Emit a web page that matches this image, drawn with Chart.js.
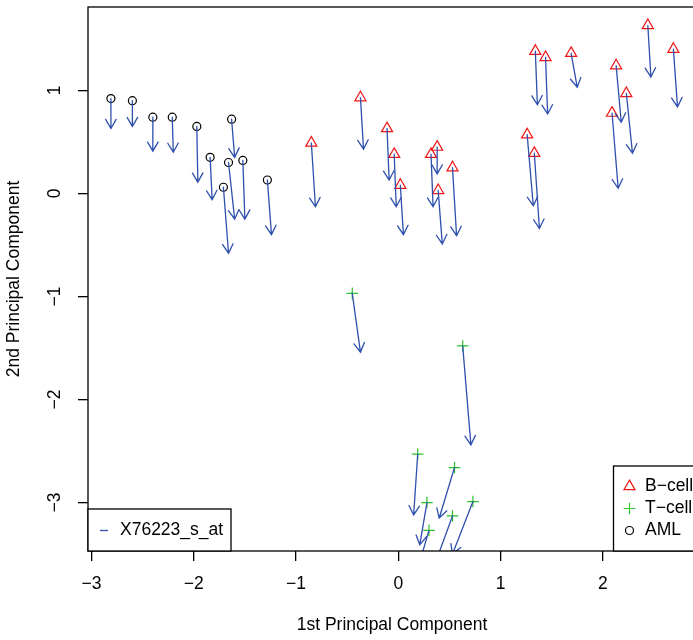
<!DOCTYPE html>
<html>
<head>
<meta charset="utf-8">
<script src="https://cdn.jsdelivr.net/npm/chart.js@4.4.1/dist/chart.umd.min.js"></script>
<style>
  html, body { margin: 0; padding: 0; overflow: hidden; background: #fff; }
  #wrap { width: 693px; height: 640px; overflow: hidden; }
</style>
</head>
<body>
<div id="wrap"><canvas id="pca" width="700" height="640" style="width:700px;height:640px"></canvas></div>
<script>
// values
const xTicks = [-3, -2, -1, 0, 1, 2];
const yTicks = [-3, -2, -1, 0, 1];

const groupNames = ['B\u2212cell', 'T\u2212cell', 'AML'];
const geneName = 'X76223_s_at';

const bX = [-0.85, -0.37, -0.11, -0.04, 0.02, 0.32, 0.38, 0.39, 0.53, 1.26, 1.33, 1.34, 1.44, 1.69, 2.13, 2.23, 2.09, 2.44, 2.69];
const bY = [0.49, 0.93, 0.63, 0.38, 0.08, 0.38, 0.45, 0.03, 0.25, 0.57, 0.39, 1.38, 1.32, 1.36, 1.24, 0.97, 0.78, 1.63, 1.40];
const bEndX = [-0.81, -0.34, -0.09, -0.02, 0.05, 0.34, 0.38, 0.43, 0.57, 1.32, 1.38, 1.36, 1.46, 1.75, 2.18, 2.29, 2.15, 2.47, 2.73];
const bEndY = [-0.13, 0.43, 0.13, -0.13, -0.40, -0.13, 0.19, -0.49, -0.41, -0.12, -0.34, 0.86, 0.77, 1.03, 0.69, 0.39, 0.05, 1.13, 0.84];

const tX = [-0.45, 0.63, 0.19, 0.55, 0.28, 0.73, 0.53, 0.30];
const tY = [-0.97, -1.48, -2.53, -2.66, -3.00, -2.99, -3.13, -3.27];
const tEndX = [-0.37, 0.71, 0.15, 0.40, 0.21, 0.53, 0.35, 0.17];
const tEndY = [-1.54, -2.44, -3.12, -3.15, -3.41, -3.50, -3.62, -3.71];

const amlX = [-2.81, -2.60, -2.40, -2.21, -1.97, -1.63, -1.84, -1.66, -1.52, -1.71, -1.28];
const amlY = [0.92, 0.90, 0.74, 0.74, 0.65, 0.72, 0.35, 0.30, 0.32, 0.06, 0.13];
const amlEndX = [-2.81, -2.60, -2.40, -2.20, -1.96, -1.60, -1.82, -1.60, -1.50, -1.66, -1.24];
const amlEndY = [0.63, 0.65, 0.41, 0.40, 0.11, 0.35, -0.06, -0.25, -0.25, -0.58, -0.40];

const red = '#f01515';
const green = '#2cc42c';
const blue = '#2f50ad';
const FONT = 'Liberation Sans, Arial, Helvetica, sans-serif';

const toPoints = (xs, ys) => xs.map((x, i) => ({ x: x, y: ys[i] }));
const minus = (v) => (v < 0 ? '\u2212' + Math.abs(v) : String(v));

const arrows = [
  [bX, bY, bEndX, bEndY],
  [tX, tY, tEndX, tEndY],
  [amlX, amlY, amlEndX, amlEndY],
];

// arrows from each sample to its shifted position
const arrowPlugin = {
  id: 'arrows',
  afterDatasetsDraw(chart) {
    const { ctx, chartArea: a, scales: { x, y } } = chart;
    ctx.save();
    ctx.beginPath();
    ctx.rect(a.left, a.top, a.right - a.left, a.bottom - a.top);
    ctx.clip();
    ctx.strokeStyle = blue;
    ctx.lineWidth = 1.3;
    ctx.lineCap = 'round';
    arrows.forEach(([xs, ys, xe, ye]) => {
      xs.forEach((v, i) => {
        const x0 = x.getPixelForValue(v), y0 = y.getPixelForValue(ys[i]);
        const x1 = x.getPixelForValue(xe[i]), y1 = y.getPixelForValue(ye[i]);
        const ang = Math.atan2(y1 - y0, x1 - x0);
        const len = 10.5, spread = Math.PI / 6;
        ctx.beginPath();
        ctx.moveTo(x0, y0);
        ctx.lineTo(x1, y1);
        ctx.moveTo(x1 - len * Math.cos(ang - spread), y1 - len * Math.sin(ang - spread));
        ctx.lineTo(x1, y1);
        ctx.lineTo(x1 - len * Math.cos(ang + spread), y1 - len * Math.sin(ang + spread));
        ctx.stroke();
      });
    });
    ctx.restore();
  },
};

// plot frame and the two legends
const framePlugin = {
  id: 'frame',
  afterDraw(chart) {
    const { ctx, chartArea: a } = chart;
    ctx.save();
    ctx.strokeStyle = '#000';
    ctx.lineWidth = 1.3;
    ctx.strokeRect(a.left, a.top, a.right - a.left, a.bottom - a.top);

    ctx.font = '17.5px ' + FONT;
    ctx.textBaseline = 'middle';
    ctx.textAlign = 'left';

    // gene legend, bottom left
    const lw = 143, lh = 42;
    ctx.fillStyle = '#fff';
    ctx.fillRect(a.left, a.bottom - lh, lw, lh);
    ctx.strokeRect(a.left, a.bottom - lh, lw, lh);
    const rowY = a.bottom - 20.5;
    ctx.strokeStyle = blue;
    ctx.beginPath();
    ctx.moveTo(a.left + 12, rowY);
    ctx.lineTo(a.left + 20, rowY);
    ctx.stroke();
    ctx.fillStyle = '#000';
    ctx.fillText(geneName, a.left + 32, rowY);

    // group legend, bottom right
    const gx = 613.5, gh = 85;
    ctx.fillStyle = '#fff';
    ctx.fillRect(gx, a.bottom - gh, a.right - gx, gh);
    ctx.strokeStyle = '#000';
    ctx.strokeRect(gx, a.bottom - gh, a.right - gx, gh);
    const styles = ['triangle', 'cross', 'circle'];
    const cols = [red, green, '#000'];
    const radii = [6.4, 5.8, 4];
    groupNames.forEach((name, i) => {
      const yy = a.bottom - 64.5 + i * 22;
      ctx.strokeStyle = cols[i];
      ctx.fillStyle = 'rgba(0,0,0,0)';
      ctx.lineWidth = 1.2;
      Chart.helpers.drawPoint(ctx, { pointStyle: styles[i], radius: radii[i], rotation: 0, borderWidth: 1.2 }, gx + 16, yy);
      ctx.fillStyle = '#000';
      ctx.fillText(name, gx + 31.5, yy);
    });
    ctx.restore();
  },
};

const noPad = (s) => {
  s.paddingTop = 0;
  s.paddingBottom = 0;
  s.paddingLeft = 0;
  s.paddingRight = 0;
};

Chart.defaults.font.family = FONT;
Chart.defaults.font.size = 17.5;
Chart.defaults.color = '#000';

new Chart(document.getElementById('pca'), {
  type: 'scatter',
  data: {
    datasets: [
      { label: groupNames[0], data: toPoints(bX, bY), pointStyle: 'triangle', pointRadius: 6.4,
        borderColor: red, backgroundColor: 'rgba(0,0,0,0)', pointBorderWidth: 1.2 },
      { label: groupNames[1], data: toPoints(tX, tY), pointStyle: 'cross', pointRadius: 5.8,
        borderColor: green, backgroundColor: 'rgba(0,0,0,0)', pointBorderWidth: 1.2 },
      { label: groupNames[2], data: toPoints(amlX, amlY), pointStyle: 'circle', pointRadius: 4,
        borderColor: '#000', backgroundColor: 'rgba(0,0,0,0)', pointBorderWidth: 1.2 },
    ],
  },
  options: {
    responsive: false,
    animation: false,
    events: [],
    layout: { autoPadding: false, padding: { top: 7, right: 4, left: 0, bottom: 0 } },
    plugins: { legend: { display: false }, tooltip: { enabled: false } },
    scales: {
      x: {
        type: 'linear',
        min: -3.034,
        max: 2.911,
        afterBuildTicks: (s) => { s.ticks = xTicks.map((v) => ({ value: v })); },
        afterFit: (s) => { s.height = 89; noPad(s); },
        border: { display: false },
        grid: { drawOnChartArea: false, drawTicks: true, tickLength: 10, color: '#000', lineWidth: 1.3 },
        ticks: { padding: 12.5, maxRotation: 0, callback: minus, font: { size: 17.5 } },
        title: { display: true, text: '1st Principal Component', padding: { top: 0, bottom: 4.5 }, font: { size: 17.5 } },
      },
      y: {
        type: 'linear',
        min: -3.47,
        max: 1.809,
        afterBuildTicks: (s) => { s.ticks = yTicks.map((v) => ({ value: v })); },
        afterFit: (s) => { s.width = 88; noPad(s); },
        border: { display: false },
        grid: { drawOnChartArea: false, drawTicks: true, tickLength: 10, color: '#000', lineWidth: 1.3 },
        ticks: { padding: 13, minRotation: 90, maxRotation: 90, crossAlign: 'center', callback: minus, font: { size: 17.5 } },
        title: { display: true, text: '2nd Principal Component', padding: { top: 3.5, bottom: 0 }, font: { size: 17.5 } },
      },
    },
  },
  plugins: [arrowPlugin, framePlugin],
});
</script>
</body>
</html>
